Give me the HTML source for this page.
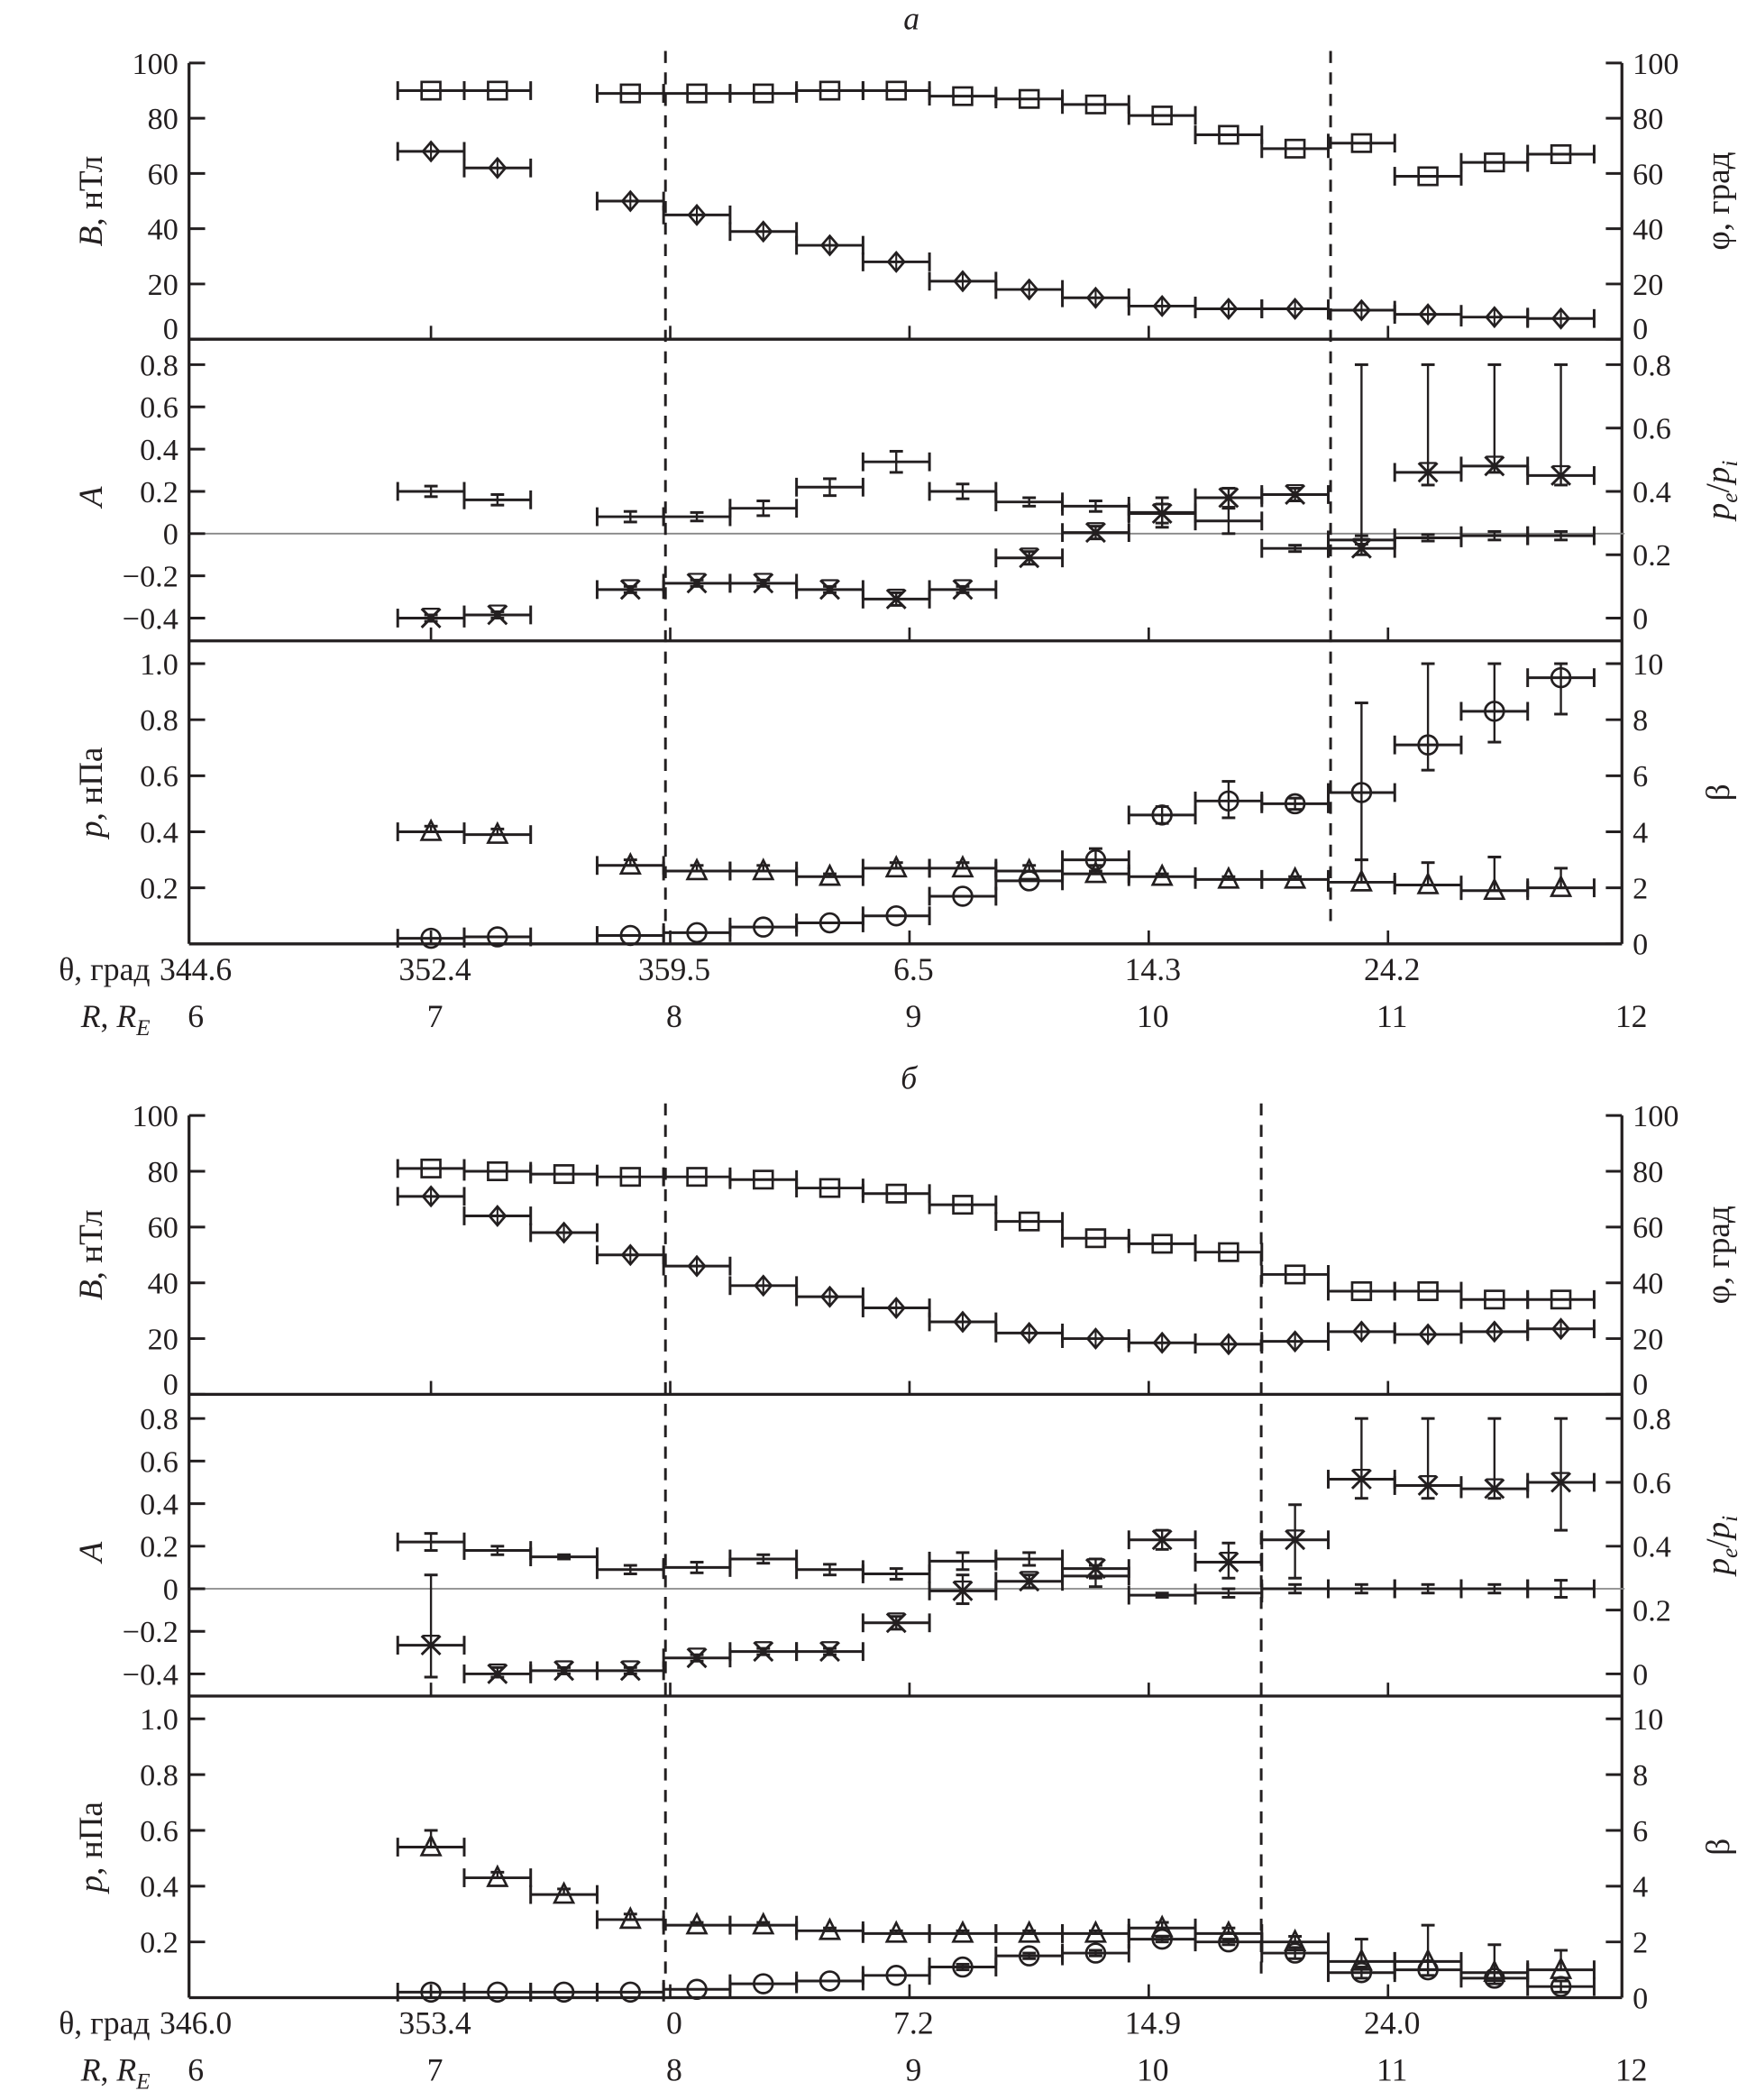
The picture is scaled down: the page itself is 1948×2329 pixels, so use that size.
<!DOCTYPE html>
<html><head><meta charset="utf-8"><style>
html,body{margin:0;padding:0;background:#fff}
svg{display:block;font-family:"Liberation Serif",serif}
svg text{font-family:"Liberation Serif",serif}
</style></head><body>
<svg id="fig" width="1948" height="2329" viewBox="0 0 1310 1566.3" xmlns="http://www.w3.org/2000/svg"></svg>
<script>
// ---------- data (panel a) ----------
const binsA = [0,1,3,4,5,6,7,8,9,10,11,12,13,14,15,16,17];
const phiA  = [90,90,89,89,89,90,90,88,87,85,81,74,69,71,59,64,67];
const BA    = [68,62,50,45,39,34,28,21,18,15,12,11,11,10.5,9,8,7.5];
const AvA   = [0.2,0.16,0.08,0.08,0.12,0.22,0.34,0.2,0.15,0.13,0.1,0.06,-0.07,-0.03,-0.02,-0.01,-0.01];
const AerA  = [0.025,0.025,0.025,0.02,0.035,0.04,0.05,0.035,0.02,0.025,0.07,0.06,0.015,0.02,0.015,0.02,0.02];
const peA   = [0.0,0.01,0.09,0.11,0.11,0.09,0.06,0.09,0.19,0.27,0.33,0.38,0.39,0.22,0.46,0.48,0.45];
const peHiA = [0.01,0.02,0.10,0.12,0.12,0.10,0.08,0.10,0.21,0.29,0.36,0.41,0.41,0.8,0.8,0.8,0.8];
const peLoA = [-0.01,0.0,0.08,0.10,0.10,0.08,0.04,0.08,0.17,0.25,0.30,0.35,0.37,0.20,0.42,0.46,0.42];
const pA    = [0.40,0.39,0.28,0.26,0.26,0.24,0.27,0.27,0.26,0.25,0.24,0.23,0.23,0.22,0.21,0.19,0.20];
const pHiA  = [0.42,0.41,0.30,0.28,0.28,0.25,0.29,0.29,0.28,0.26,0.25,0.24,0.24,0.30,0.29,0.31,0.27];
const betaA = [0.2,0.25,0.3,0.4,0.6,0.75,1.0,1.7,2.25,3.0,4.6,5.1,5.0,5.4,7.1,8.3,9.5];
const bHiA  = [0.2,0.25,0.3,0.4,0.6,0.75,1.0,1.7,2.25,3.4,4.9,5.8,5.2,8.6,10,10,10];
const bLoA  = [0.2,0.25,0.3,0.4,0.6,0.75,1.0,1.7,2.25,2.8,4.3,4.5,4.8,3.0,6.2,7.2,8.2];
// ---------- data (panel b) ----------
const binsB = [0,1,2,3,4,5,6,7,8,9,10,11,12,13,14,15,16,17];
const phiB  = [81,80,79,78,78,77,74,72,68,62,56,54,51,43,37,37,34,34];
const BB    = [71,64,58,50,46,39,35,31,26,22,20,18.5,18,19,22.5,21.5,22.5,23.5];
const AvB   = [0.22,0.18,0.15,0.09,0.1,0.14,0.09,0.07,0.13,0.14,0.06,-0.03,-0.02,0.0,0.0,0.0,0.0,0.0];
const AerB  = [0.04,0.02,0.01,0.02,0.025,0.02,0.025,0.025,0.04,0.03,0.05,0.01,0.02,0.02,0.02,0.02,0.02,0.04];
const peB   = [0.09,0.0,0.01,0.01,0.05,0.07,0.07,0.16,0.26,0.29,0.33,0.42,0.35,0.42,0.61,0.59,0.58,0.60];
const peHiB = [0.31,0.02,0.02,0.02,0.06,0.08,0.08,0.18,0.31,0.31,0.36,0.45,0.41,0.53,0.8,0.8,0.8,0.8];
const peLoB = [-0.01,-0.01,0.0,0.0,0.04,0.06,0.06,0.14,0.22,0.27,0.30,0.39,0.30,0.30,0.55,0.55,0.55,0.45];
const pB    = [0.54,0.43,0.37,0.28,0.26,0.26,0.24,0.23,0.23,0.23,0.23,0.25,0.23,0.2,0.13,0.13,0.09,0.1];
const pHiB  = [0.60,0.45,0.39,0.30,0.27,0.27,0.25,0.24,0.24,0.24,0.24,0.27,0.25,0.22,0.21,0.26,0.19,0.17];
const betaB = [0.2,0.2,0.2,0.2,0.3,0.5,0.6,0.8,1.1,1.5,1.6,2.1,2.0,1.6,0.9,1.0,0.7,0.4];
const bHiB  = [0.2,0.2,0.2,0.2,0.3,0.5,0.6,0.8,1.2,1.6,1.7,2.2,2.1,1.8,1.1,1.3,0.9,0.6];
const bLoB  = [0.2,0.2,0.2,0.2,0.3,0.5,0.6,0.8,1.0,1.4,1.5,2.0,1.9,1.4,0.7,0.8,0.5,0.2];
// axis tick labels
const thetaA = ["344.6","352.4","359.5","6.5","14.3","24.2"];
const thetaB = ["346.0","353.4","0","7.2","14.9","24.0"];
const rTicks = ["6","7","8","9","10","11","12"];
const dashA = [7.98, 10.76];
const dashB = [7.98, 10.47];

const NS="http://www.w3.org/2000/svg";
const svg=document.getElementById('fig');
function el(tag,attrs,parent){const e=document.createElementNS(NS,tag);for(const k in attrs)e.setAttribute(k,attrs[k]);(parent||svg).appendChild(e);return e;}
const X0=143,XS=178.5,XL=141,XRt=1210;
function xR(R){return X0+XS*(R-6);}
function xc(k){return xR(7+k*0.2778);}
const HW=24.8;
function line(g,x1,y1,x2,y2,w,c,dash){const a={x1,y1,x2,y2,stroke:c||'#231f20','stroke-width':w||2};if(dash)a['stroke-dasharray']=dash;return el('line',a,g);}
function txt(g,x,y,s,anchor,size,style){const t=el('text',{x,y,'font-size':size||23,'text-anchor':anchor||'middle',fill:'#231f20'},g);if(style)t.setAttribute('font-style',style);t.textContent=s;return t;}
function hbar(g,x,y){line(g,x-HW,y,x+HW,y,2);line(g,x-HW,y-7,x-HW,y+7,2);line(g,x+HW,y-7,x+HW,y+7,2);}
function vbar(g,x,y1,y2){line(g,x,y1,x,y2,1.6);line(g,x-5,y1,x+5,y1,2);line(g,x-5,y2,x+5,y2,2);}
function square(g,x,y){el('rect',{x:x-7,y:y-6.5,width:14,height:13,fill:'none',stroke:'#231f20','stroke-width':1.8},g);}
function diamond(g,x,y){el('path',{d:`M${x} ${y-7}L${x+6} ${y}L${x} ${y+7}L${x-6} ${y}Z`,fill:'none',stroke:'#231f20','stroke-width':1.8},g);line(g,x,y-7,x,y+7,1.4);}
function tri(g,x,y){el('path',{d:`M${x} ${y-8}L${x+7} ${y+6}L${x-7} ${y+6}Z`,fill:'none',stroke:'#231f20','stroke-width':1.8},g);}
function circ(g,x,y){el('circle',{cx:x,cy:y,r:7,fill:'none',stroke:'#231f20','stroke-width':1.8},g);}
function star(g,x,y){line(g,x-7,y-7,x+7,y+7,2);line(g,x-7,y+7,x+7,y-7,2);line(g,x-6,y-7,x+6,y-7,1.5);}

function buildFigure(cfg){
  const root=el('g',{});
  
  
  const t=txt(root,cfg.titleX,cfg.titleY,cfg.title,'middle',24,'italic');
  
  
  const y1=v=>cfg.p1.y0-(v/100)*(cfg.p1.y0-cfg.p1.y100);
  const y2=v=>cfg.p2.y0-(v/0.2)*cfg.p2.s;
  const y2r=r=>y2(-0.4+1.5*r);
  const y3=v=>cfg.p3.y0-v*(cfg.p3.y0-cfg.p3.y1);
  const y3r=b=>y3(b/10);
  const top=cfg.p1.y100, bot=cfg.p3.y0;
  const ax=el('g',{},root);
  
  
  line(ax,XL,top,XL,bot,2.2);line(ax,XRt,top,XRt,bot,2.2);
  [cfg.p1.y0,cfg.p2.bot,bot].forEach(yy=>line(ax,XL,yy,XRt,yy,2.2));
  line(ax,XL,y2(0),XRt+2,y2(0),1.2,'#888');
  [cfg.p1.y0,cfg.p2.bot,bot].forEach(yy=>{for(let R=7;R<=11;R++)line(ax,xR(R),yy,xR(R),yy-10,1.8);});
  function lt(y,lab,dy){line(ax,XL,y,XL+12,y,2);txt(ax,XL-8,y+8+(dy||0),lab,'end',23);}
  function rt(y,lab,dy){line(ax,XRt-12,y,XRt,y,2);txt(ax,XRt+8,y+8+(dy||0),lab,'start',23);}
  [0,20,40,60,80,100].forEach(v=>{lt(y1(v),String(v),v===0?-8:0);rt(y1(v),String(v),v===0?-8:0);});
  [-0.4,-0.2,0,0.2,0.4,0.6,0.8].forEach(v=>lt(y2(v),v===0?'0':(v<0?'\u2212':'')+Math.abs(v).toFixed(1)));
  [0,0.2,0.4,0.6,0.8].forEach(r=>rt(y2r(r),r===0?'0':r.toFixed(1)));
  [0.2,0.4,0.6,0.8,1.0].forEach(v=>lt(y3(v),v.toFixed(1)));
  [0,2,4,6,8,10].forEach(b=>rt(y3r(b),String(b)));
  function vt(x,y,parts,name){const g=el('text',{transform:`translate(${x},${y}) rotate(-90)`,'font-size':25,'text-anchor':'middle',fill:'#231f20'},root);parts.forEach(p=>{const s=el('tspan',p[1]||{},g);s.textContent=p[0];});}
  vt(76,(top+cfg.p1.y0)/2,[['B',{'font-style':'italic'}],[', нТл']],'y-axis-title-b');
  vt(76,(cfg.p1.y0+cfg.p2.bot)/2+5,[['A',{'font-style':'italic'}]],'y-axis-title-a');
  vt(76,(cfg.p2.bot+bot)/2,[['p',{'font-style':'italic'}],[', нПа']],'y-axis-title-p');
  vt(1290,(top+cfg.p1.y0)/2,[['φ, град']],'right-axis-title-phi');
  vt(1290,(cfg.p1.y0+cfg.p2.bot)/2,[['p',{'font-style':'italic'}],['e',{'font-style':'italic','font-size':17,dy:6}],['/',{dy:-6}],['p',{'font-style':'italic'}],['i',{'font-style':'italic','font-size':17,dy:6}]],'right-axis-title-pe-pi');
  vt(1290,(cfg.p2.bot+bot)/2,[['β']],'right-axis-title-beta');
  const xl=el('g',{},root);
  
  
  txt(xl,112,bot+27,'θ, град','end',24);
  const rl=el('text',{x:112,y:bot+62,'font-size':24,'text-anchor':'end',fill:'#231f20'},xl);
  const a1=el('tspan',{'font-style':'italic'},rl);a1.textContent='R';
  const a2=el('tspan',{},rl);a2.textContent=', ';
  const a3=el('tspan',{'font-style':'italic'},rl);a3.textContent='R';
  const a4=el('tspan',{'font-style':'italic','font-size':17,dy:6},rl);a4.textContent='E';
  cfg.theta.forEach((s,i)=>txt(xl,xR(6+i)+3,bot+27,s,'middle',24));
  rTicks.forEach((s,i)=>txt(xl,xR(6+i)+3,bot+62,s,'middle',24));
  cfg.dash.forEach(R=>{const d=line(root,xR(R),top-9,xR(R),bot-14,2,'#231f20','9,7');});
  function series(name,fn){const g=el('g',{},root);cfg.bins.forEach((k,i)=>fn(g,xc(k),i));}
  series('phi-series',(g,x,i)=>{const y=y1(cfg.phi[i]);hbar(g,x,y);square(g,x,y);});
  series('b-series',(g,x,i)=>{const y=y1(cfg.B[i]);hbar(g,x,y);diamond(g,x,y);});
  series('a-series',(g,x,i)=>{const y=y2(cfg.A[i]);hbar(g,x,y);vbar(g,x,y2(cfg.A[i]+cfg.Aer[i]),y2(cfg.A[i]-cfg.Aer[i]));});
  series('pe-pi-series',(g,x,i)=>{const y=y2r(cfg.pe[i]);hbar(g,x,y);vbar(g,x,y2r(cfg.peHi[i]),y2r(cfg.peLo[i]));star(g,x,y);});
  series('p-series',(g,x,i)=>{const y=y3(cfg.p[i]);hbar(g,x,y);vbar(g,x,y3(cfg.pHi[i]),y);tri(g,x,y);});
  series('beta-series',(g,x,i)=>{const y=y3r(cfg.beta[i]);hbar(g,x,y);if(cfg.bHi[i]-cfg.bLo[i]>0.05)vbar(g,x,y3r(cfg.bHi[i]),y3r(cfg.bLo[i]));circ(g,x,y);});
}
buildFigure({name:'figure-a',title:'а',titleX:680,titleY:22,
  p1:{y100:47,y0:253},p2:{y0:398,s:31.5,bot:478},p3:{y1:495,y0:704},
  theta:thetaA,dash:dashA,bins:binsA,phi:phiA,B:BA,A:AvA,Aer:AerA,pe:peA,peHi:peHiA,peLo:peLoA,p:pA,pHi:pHiA,beta:betaA,bHi:bHiA,bLo:bLoA});
buildFigure({name:'figure-b',title:'б',titleX:678,titleY:812,
  p1:{y100:832,y0:1040},p2:{y0:1185,s:31.75,bot:1265},p3:{y1:1282,y0:1490},
  theta:thetaB,dash:dashB,bins:binsB,phi:phiB,B:BB,A:AvB,Aer:AerB,pe:peB,peHi:peHiB,peLo:peLoB,p:pB,pHi:pHiB,beta:betaB,bHi:bHiB,bLo:bLoB});
</script>
</body></html>
